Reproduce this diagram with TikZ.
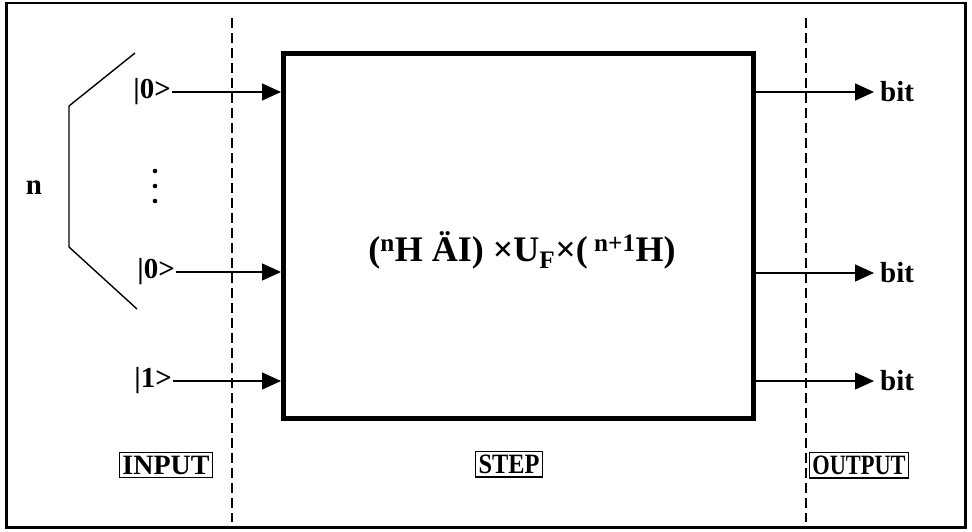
\documentclass[tikz,border=0pt]{standalone}
\usepackage{fontspec}
\setmainfont{Liberation Serif}
\usepackage{tikz}
\usetikzlibrary{arrows.meta, positioning, calc}

\newcommand{\narrowtext}[2]{\scalebox{#1}[1]{#2}}

\tikzset{
  lbl/.style={font=\bfseries\fontsize{29}{31}\selectfont, inner sep=1pt},
  tagbox/.style={draw, line width=1.2pt, font=\bfseries\fontsize{28}{30}\selectfont,
    inner xsep=3pt, inner ysep=3.5pt},
  wire/.style={line width=1.3pt, -{Triangle[length=19pt, width=17pt]}},
  divider/.style={line width=1.3pt, dash pattern=on 10pt off 5pt},
}

\begin{document}
\begin{tikzpicture}[x=1pt, y=-1pt]
  \useasboundingbox (0,0) rectangle (972,531);
  \draw[line width=2.5pt] (6.5,3) rectangle (965.5,527.5);

  % phase dividers
  \draw[divider] (232,18) -- (232,522);
  \draw[divider] (806,18) -- (806,522);

  % the step box
  \node[draw, line width=5pt, minimum width=470pt, minimum height=365pt,
        inner sep=0pt] (box) at (518.5,235.5) {};
  \node[font=\bfseries\fontsize{36}{38}\selectfont] (formula) at (522,250)
    {(\textsuperscript{n}H ÄI) ×U\textsubscript{F}×(\textsuperscript{ n+1}H)};

  % inputs
  \node[lbl, anchor=east] (in1) at (172,92) {|0>};
  \node[lbl, anchor=east] (in2) at (176,272) {|0>};
  \node[lbl, anchor=east] (in3) at (173,381) {|1>};
  \foreach \k in {in1, in2, in3}
    \draw[wire] (\k.east) -- (\k.east -| box.west);

  \foreach \y in {171, 186, 201}
    \fill (155,\y) circle (2.3pt);

  % n qubits
  \draw[line width=1.4pt] (135,53) -- (69,106) -- (69,247) -- (137,309);
  \node[lbl] (n) at (34,188) {n};

  % outputs
  \node[lbl, anchor=west] (out1) at (879,92) {bit};
  \node[lbl, anchor=west] (out2) at (879,273) {bit};
  \node[lbl, anchor=west] (out3) at (879,381) {bit};
  \foreach \k in {out1, out2, out3}
    \draw[wire, shorten >=5pt] (\k.west -| box.east) -- (\k.west);

  \node[tagbox] (input) at (166,465) {INPUT};
  \node[tagbox] (step) at (509,464) {\narrowtext{0.87}{STEP}};
  \node[tagbox] (output) at (859,465) {\narrowtext{0.8}{OUTPUT}};
\end{tikzpicture}
\end{document}
